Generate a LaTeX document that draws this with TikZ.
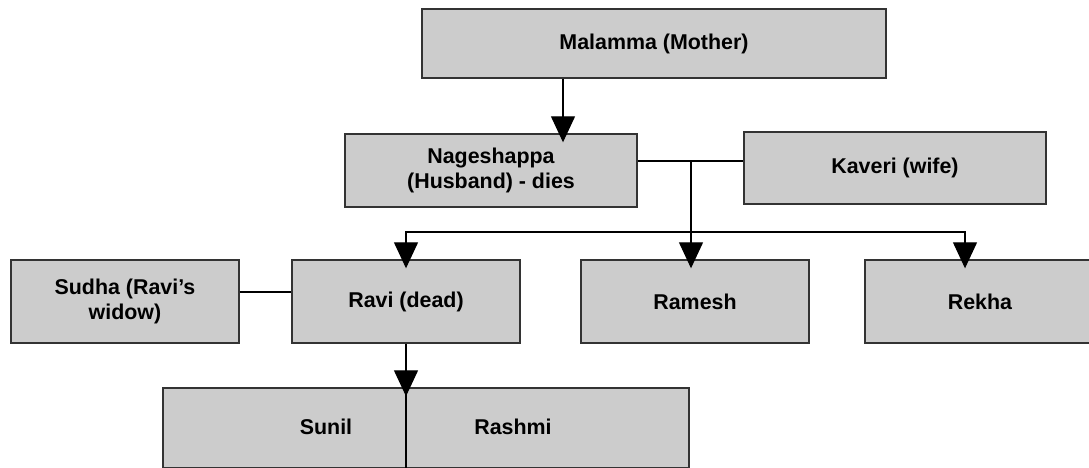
\documentclass[tikz,border=0pt]{standalone}
\usepackage{fontspec}
\setmainfont{Liberation Sans}
\usetikzlibrary{arrows.meta}
\begin{document}
\begin{tikzpicture}[x=1pt,y=-1pt,
  famb/.style={draw=black!80, line width=1.4pt, fill=black!20, inner sep=0pt,
    align=center, font=\fontsize{21.4}{24.5}\selectfont\bfseries},
  lbl/.style={inner sep=0pt, font=\fontsize{21.4}{24.5}\selectfont\bfseries},
  link/.style={line width=1.2pt, black},
  arr/.style={link, -{Triangle[length=26pt,width=24pt]}, shorten >=-9pt}]
\useasboundingbox (0,0) rectangle (1089,467);
\clip (0,0) rectangle (1089,467);
% family members
\node[famb, minimum width=464pt, minimum height=69pt] (mal) at (654,43.5) {Malamma (Mother)};
\node[famb, minimum width=292pt, minimum height=73pt] (nag) at (491,170.5) {Nageshappa\\(Husband) - dies};
\node[famb, minimum width=302pt, minimum height=72pt] (kav) at (895,168) {Kaveri (wife)};
\node[famb, minimum width=228pt, minimum height=83pt] (sud) at (125,301.5) {Sudha (Ravi's\\widow)};
\node[famb, minimum width=228pt, minimum height=83pt] (ravi) at (406,301.5) {Ravi (dead)};
\node[famb, minimum width=228pt, minimum height=83pt] (ram) at (695,301.5) {Ramesh};
\node[famb, minimum width=230pt, minimum height=83pt] (rek) at (980,301.5) {Rekha};
\node[famb, minimum width=526pt, minimum height=80pt] (kids) at (426,428) {};
\node[lbl] (sunil) at (326,427) {Sunil};
\node[lbl] (rashmi) at (513,427) {Rashmi};
% reference points for the connectors
\coordinate (ma) at (563,0);
\coordinate (mar) at (691,161);
\coordinate (bus) at (0,232);
\coordinate (rk) at (965,0);
\coordinate (sr) at (0,292);
% connectors
\draw[arr] (mal.south -| ma) -- (nag.north -| ma);
\draw[link] (nag.east |- mar) -- (kav.west |- mar);
\draw[arr] (mar) -- (ram.north -| mar);
\draw[arr] (mar |- bus) -| (ravi.north);
\draw[arr] (mar |- bus) -| (rek.north -| rk);
\draw[link] (sud.east |- sr) -- (ravi.west |- sr);
\draw[arr] (ravi.south) -- (kids.north -| ravi.south);
\draw[link] (kids.north -| ravi.south) -- (kids.south -| ravi.south);
\end{tikzpicture}
\end{document}
